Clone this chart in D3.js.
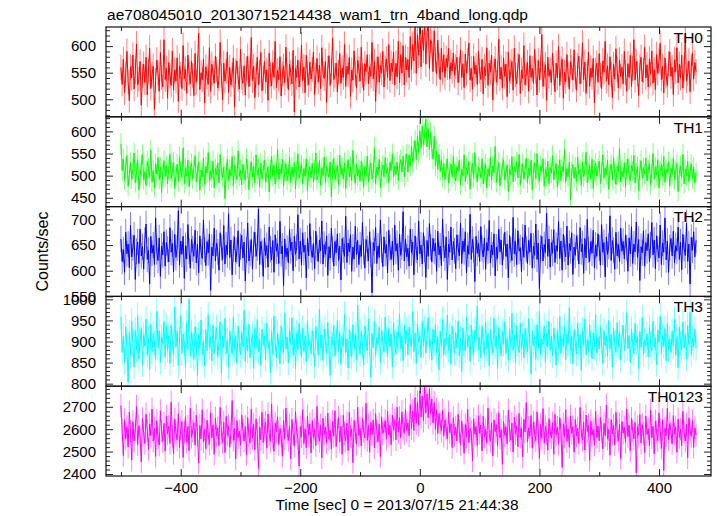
<!DOCTYPE html>
<html><head><meta charset="utf-8">
<script src="https://cdn.jsdelivr.net/npm/d3@7"></script>
<style>
body{margin:0;background:#fff}
svg{display:block}
text{font-family:"Liberation Sans",Arial,Helvetica,sans-serif;fill:#000}
</style>
</head><body>
<svg id="c" width="717" height="516"></svg>
<script>
// time bins: start and step (seconds)
const tStart = -500, tStep = 2;

const th0 = [
560,528,575,512,548,590,533,497,561,540,583,519,552,604,527,538,571,489,544,566,
531,579,508,553,596,520,547,562,481,536,574,549,515,588,541,523,612,537,558,502,
569,544,526,591,517,555,534,578,496,563,547,520,601,539,557,511,583,548,529,572,
545,507,586,532,559,624,518,550,537,575,493,561,542,528,597,515,566,549,530,581,
556,521,539,607,545,499,568,534,552,589,513,560,527,546,578,485,553,572,538,519,
594,541,530,563,508,557,581,524,548,616,535,562,503,545,579,527,551,588,516,540,
571,533,555,498,587,546,525,569,541,609,522,554,537,580,506,547,563,531,598,544,
518,566,550,529,592,476,558,541,574,523,547,602,535,561,512,583,549,527,570,538,
556,589,509,545,577,532,564,520,597,548,539,571,494,558,582,526,553,615,537,545,
568,514,551,586,530,559,541,603,524,562,547,579,505,555,536,591,548,521,573,557,
534,598,545,517,567,552,584,529,561,543,607,538,571,496,556,580,532,564,549,590,
523,559,576,541,603,535,568,552,589,527,568,542,609,531,584,549,601,527,579,555,
575,541,618,556,603,572,638,549,621,583,645,561,630,592,648,566,625,641,558,612,
605,552,629,574,548,611,563,537,596,551,584,541,577,560,596,538,569,553,587,545,
562,579,531,556,593,540,567,522,585,549,573,606,536,558,519,581,547,564,528,590,
553,537,575,510,561,544,597,526,568,551,583,499,557,576,532,549,613,538,560,521,
578,543,566,505,589,534,552,571,517,596,546,529,563,584,511,555,539,601,527,548,
569,515,582,541,558,530,594,552,508,573,536,560,622,524,547,565,498,579,543,556,
531,587,549,514,568,540,599,526,557,575,502,551,533,584,546,519,571,560,536,593,
542,517,564,581,529,553,606,537,570,511,548,589,524,559,541,577,493,555,568,532,
586,545,520,572,551,609,534,563,527,580,547,503,566,538,595,556,521,574,543,561,
529,590,550,515,567,541,583,524,558,612,536,571,548,507,562,579,533,554,598,540,
565,523,576,547,591,530,556,518,584,549,571,605,537,562,512,578,545,526,567,589,
543,560,509,574,552,597,531,566,540,583,521,557,619,535,548,572,514,561,587,538,
569,552];

const th1 = [
572,511,538,489,520,545,476,503,529,492,515,551,484,507,536,468,498,524,547,490,
509,478,533,517,496,558,485,512,473,527,503,541,491,519,462,506,534,498,522,481,
514,549,493,508,530,471,501,526,487,543,510,496,563,482,517,499,535,475,509,528,
492,518,545,486,504,531,467,513,497,539,480,521,506,552,488,511,494,533,472,516,
502,529,483,548,510,495,520,448,507,537,489,514,500,543,477,523,505,491,556,498,
512,479,526,503,490,538,515,468,509,532,496,521,484,547,501,517,474,528,493,511,
535,487,506,520,463,513,544,498,524,481,508,560,492,515,503,537,476,510,527,489,
504,541,485,519,497,530,470,512,549,494,507,525,482,516,499,538,466,509,521,495,
528,486,513,551,490,505,534,478,518,500,542,484,522,507,496,531,452,514,539,491,
508,523,480,546,502,517,493,529,471,511,536,497,520,488,557,505,483,526,499,514,
487,532,509,475,521,498,544,485,513,528,492,506,563,482,519,501,537,473,510,524,
496,541,505,518,484,530,512,549,498,522,502,531,489,524,536,508,544,497,528,549,
508,547,521,566,530,558,579,536,590,552,601,563,612,570,594,628,565,606,559,597,
561,537,589,522,556,514,548,509,536,497,527,491,515,538,483,509,526,497,543,504,
488,521,510,536,479,514,499,547,486,518,503,532,469,511,528,494,552,505,487,520,
513,495,538,481,507,526,472,516,499,541,489,522,506,566,484,512,530,477,503,519,
536,490,508,524,464,515,501,543,486,520,509,531,495,548,479,506,527,492,514,539,
483,517,500,535,468,511,529,493,550,504,487,522,510,538,476,515,497,533,482,518,
506,545,491,513,527,474,502,536,489,521,508,559,485,516,498,531,445,510,525,494,
519,487,542,503,514,478,530,497,511,553,484,507,523,492,537,471,512,528,499,516,
533,482,509,547,494,518,502,535,469,513,526,490,541,505,480,521,508,562,486,511,
497,529,473,515,538,501,489,524,510,546,483,507,520,466,512,534,495,518,504,540,
488,513,527,479,506,550,492,519,501,536,472,510,525,498,543,485,514,507,531,476,
517,503,539,490,511,528,464,505,522,496,548,481,515,500,533,487,509,526,493,519,
484,507];

const th2 = [
662,618,641,597,675,633,652,606,688,627,645,669,583,638,656,614,681,629,647,603,
659,691,622,640,574,667,634,650,612,703,637,620,664,589,648,631,676,609,655,642,
617,684,636,653,598,671,626,644,717,611,658,632,667,585,649,623,690,638,605,661,
643,628,679,615,652,596,668,637,624,699,641,610,657,635,672,562,646,629,683,619,
654,637,601,674,645,622,688,613,650,631,711,626,660,592,643,666,617,639,678,608,
647,669,625,656,580,640,693,619,634,661,603,651,675,628,645,720,612,657,636,589,
664,630,649,607,685,642,621,659,597,670,638,653,614,696,633,648,571,662,627,644,
615,681,639,656,600,667,632,645,709,623,658,611,674,636,650,586,663,629,692,641,
626,653,604,677,644,618,660,639,697,613,651,632,668,591,647,625,683,642,609,657,
635,672,620,648,582,663,641,628,706,616,654,637,670,599,646,623,687,631,659,612,
650,628,694,637,605,661,643,619,676,632,557,655,639,684,614,648,626,699,640,608,
666,634,651,596,679,645,622,658,611,689,638,653,601,671,630,646,715,619,662,627,
644,609,681,635,656,592,668,640,621,697,633,650,613,674,642,587,659,628,692,646,
617,663,638,654,599,677,631,648,610,701,643,625,666,583,652,636,685,621,657,639,
604,670,645,629,693,614,658,637,676,596,649,632,710,622,661,641,579,667,634,653,
618,686,643,627,664,603,655,639,698,615,650,631,672,590,646,624,681,637,660,611,
647,675,628,652,586,669,641,620,704,633,657,612,678,638,645,598,665,626,689,642,
614,659,636,673,605,648,630,691,622,654,565,644,667,619,651,635,712,628,662,607,
655,634,680,616,649,638,696,624,658,601,671,643,627,687,611,653,639,674,593,646,
630,668,645,613,684,637,652,595,663,625,700,641,618,657,634,679,606,650,628,672,
644,611,690,636,655,588,666,632,648,707,620,659,640,603,675,629,651,617,683,638,
657,623,670,645,599,664,633,686,614,652,637,695,626,661,581,647,635,678,609,655,
639,672,618,650,694,631,660,604,668,642,625,689,612,654,636,703,621,658,597,645,
663,629,677,615,649,638,685,622,656,602,671,644,630,693,618,652,574,665,640,676,
627,659];

const th3 = [
958,874,912,851,935,887,803,921,866,948,895,839,927,880,962,858,903,931,845,916,
889,953,868,907,834,941,876,919,897,858,972,884,926,851,910,893,947,862,935,879,
914,848,938,901,869,982,887,925,843,906,961,872,918,895,838,944,881,1000,866,923,
892,857,935,904,819,917,883,951,869,899,842,928,878,963,887,911,854,939,872,906,
933,864,897,946,825,913,886,955,871,904,839,926,893,870,958,881,915,848,937,896,
868,922,887,974,853,909,878,941,862,898,917,836,931,884,952,875,906,843,929,891,
913,857,944,883,901,826,925,870,960,894,861,919,888,847,937,902,875,968,882,910,
849,927,893,956,867,905,835,921,880,943,898,862,932,876,914,852,949,889,903,871,
926,894,841,935,908,868,977,885,916,855,930,899,872,945,883,820,911,892,938,866,
903,950,877,921,846,912,889,964,873,906,837,928,895,863,940,881,917,856,986,898,
870,924,888,845,937,904,878,953,891,815,919,885,947,867,909,893,934,851,926,899,
875,958,902,864,931,887,918,840,945,896,871,923,906,966,882,913,854,939,894,927,
868,934,905,887,971,876,920,848,942,899,913,862,948,890,931,873,915,957,884,903,
856,929,896,940,874,911,833,925,889,952,867,908,893,963,879,917,846,936,901,872,
921,885,949,866,907,829,932,894,878,958,888,914,853,939,898,872,927,905,984,881,
910,862,937,892,869,946,883,919,842,928,897,873,955,887,912,836,933,902,866,924,
893,947,871,908,855,930,886,967,879,916,849,938,895,874,943,882,918,861,931,900,
876,954,897,823,925,889,911,858,940,884,972,869,906,893,937,851,920,887,948,879,
913,866,932,899,844,926,883,959,872,907,890,936,857,919,895,980,878,912,847,929,
898,871,944,885,916,832,927,891,953,868,905,877,939,894,859,921,887,964,873,910,
882,935,901,848,926,890,912,865,950,883,917,839,931,896,874,945,888,921,856,907,
939,879,906,968,884,914,850,929,892,871,943,897,911,835,924,886,957,869,903,890,
918,863,933,894,877,948,886,909,845,927,898,960,872,915,889,931,854,942,881,906,
874,925,891,953,867,912,838,934,896,880,946,885,918,859,938,893,970,871,908,887,
929,884];

const th0123 = [
2705,2598,2483,2641,2557,2612,2520,2676,2589,2462,2633,2548,2597,2701,2531,2615,2569,2453,2648,2582,
2536,2667,2594,2510,2623,2571,2690,2547,2604,2478,2638,2563,2529,2682,2591,2545,2626,2502,2657,2579,
2612,2537,2720,2568,2491,2645,2583,2552,2669,2519,2601,2634,2474,2587,2656,2541,2613,2505,2693,2564,
2593,2629,2528,2662,2575,2449,2617,2556,2686,2543,2600,2512,2640,2578,2533,2673,2561,2620,2488,2650,
2569,2606,2527,2697,2584,2541,2631,2496,2657,2573,2615,2520,2584,2728,2550,2603,2467,2638,2562,2592,
2529,2664,2596,2547,2613,2486,2652,2571,2538,2689,2560,2621,2508,2646,2582,2425,2609,2553,2675,2540,
2598,2630,2515,2668,2576,2545,2712,2563,2501,2627,2588,2655,2532,2604,2570,2479,2639,2557,2694,2585,
2549,2616,2468,2643,2579,2524,2678,2591,2556,2435,2611,2566,2687,2535,2602,2517,2659,2572,2624,2494,
2638,2561,2600,2527,2701,2583,2546,2619,2472,2649,2577,2608,2539,2672,2554,2595,2511,2635,2568,2683,
2522,2596,2653,2542,2614,2488,2662,2580,2548,2627,2505,2676,2567,2601,2450,2639,2586,2533,2698,2571,
2604,2525,2648,2592,2561,2716,2550,2618,2497,2631,2576,2640,2516,2669,2589,2543,2623,2478,2655,2581,
2599,2638,2555,2680,2574,2617,2531,2663,2598,2642,2553,2698,2586,2651,2562,2677,2604,2581,2688,2595,
2628,2571,2709,2603,2682,2594,2741,2626,2722,2618,2770,2654,2748,2637,2795,2672,2758,2651,2781,2669,
2735,2628,2719,2598,2688,2581,2670,2628,2593,2685,2569,2642,2601,2557,2676,2584,2625,2518,2651,2573,
2609,2548,2667,2590,2531,2636,2574,2492,2621,2565,2689,2540,2603,2587,2459,2646,2578,2613,2527,2660,
2582,2619,2503,2657,2566,2600,2539,2694,2577,2546,2628,2481,2641,2589,2620,2524,2673,2561,2598,2443,
2635,2572,2611,2534,2686,2593,2551,2627,2498,2653,2580,2615,2522,2670,2564,2604,2476,2644,2587,2719,
2543,2607,2568,2661,2515,2632,2583,2549,2678,2594,2470,2621,2559,2692,2537,2613,2580,2506,2647,2591,
2561,2629,2488,2666,2575,2608,2533,2652,2596,2429,2624,2566,2687,2545,2603,2519,2658,2581,2612,2497,
2644,2570,2605,2536,2697,2584,2551,2631,2507,2663,2590,2618,2461,2637,2574,2600,2529,2681,2563,2615,
2548,2652,2587,2512,2626,2571,2708,2556,2599,2484,2642,2579,2617,2530,2675,2592,2546,2622,2469,2634,
2582,2609,2541,2690,2567,2618,2503,2648,2593,2557,2630,2405,2611,2573,2665,2538,2620,2584,2496,2659,
2576,2602,2525,2684,2562,2613,2490,2637,2588,2549,2672,2597,2514,2641,2416,2605,2570,2693,2553,2626,
2589,2535,2661,2578,2610,2498,2645,2563,2601,2527,2679,2586,2547,2623,2472,2651,2594,2569,2638,2519,
2606,2574];

const panelNames = ["TH0", "TH1", "TH2", "TH3", "TH0123"];
const panelColors = ["#ff0000", "#00ff00", "#0000ff", "#00ffff", "#ff00ff"];
const yDomains = [[467, 636], [430, 633], [550, 725], [794, 1007], [2391, 2792]];
const yMajorTicks = [[500, 550, 600], [450, 500, 550, 600], [550, 600, 650, 700], [800, 850, 900, 950, 1000], [2400, 2500, 2600, 2700]];
const yMinorStep = [10, 10, 10, 10, 20];
const xDomain = [-525, 487];
const xMajorTicks = [-400, -200, 0, 200, 400];
const xMinorTicks = [-500, -300, -100, 100, 300];
const titleText = "ae708045010_20130715214438_wam1_trn_4band_long.qdp";
const xLabelText = "Time [sec] 0 = 2013/07/15 21:44:38";
const yLabelText = "Counts/sec";

const series = [th0, th1, th2, th3, th0123];

const svg = d3.select("#c");
const L = 106, R = 711, T = 27, B = 476;
const ph = (B - T) / series.length;
const x = d3.scaleLinear().domain(xDomain).range([L, R]);
const defs = svg.append("defs");
const fmtInt = d3.format("d");

series.forEach((vals, k) => {
  const top = T + k * ph, bot = top + ph;
  const y = d3.scaleLinear().domain(yDomains[k]).range([bot, top]);
  const col = panelColors[k];
  defs.append("clipPath").attr("id", "clip" + k)
    .append("rect").attr("x", L).attr("y", top).attr("width", R - L).attr("height", ph);
  const g = svg.append("g").attr("clip-path", `url(#clip${k})`);
  const pts = vals.map((v, i) => ({ t: tStart + i * tStep, v: v, e: Math.sqrt(v) }));
  // error bars
  let d = "";
  pts.forEach(p => { d += `M${x(p.t).toFixed(2)},${y(p.v - p.e).toFixed(2)}V${y(p.v + p.e).toFixed(2)}`; });
  g.append("path").attr("d", d).attr("fill", "none").attr("stroke", col)
    .attr("stroke-opacity", 0.5).attr("stroke-width", 1);
  // line
  g.append("path").datum(pts)
    .attr("d", d3.line().x(p => x(p.t)).y(p => y(p.v)))
    .attr("fill", "none").attr("stroke", col).attr("stroke-width", 1);

  // minor y ticks
  const [y0, y1] = yDomains[k];
  const minor = d3.range(Math.ceil(y0 / yMinorStep[k]) * yMinorStep[k], y1 + 0.001, yMinorStep[k])
    .filter(v => !yMajorTicks[k].includes(v));
  const axG = svg.append("g");
  axG.append("g").attr("transform", `translate(${L},0)`)
    .call(d3.axisLeft(y).tickValues(yMajorTicks[k]).tickSize(-7).tickPadding(10).tickFormat(fmtInt))
    .call(a => a.select(".domain").remove());
  axG.append("g").attr("transform", `translate(${L},0)`)
    .call(d3.axisLeft(y).tickValues(minor).tickSize(-4).tickFormat(""))
    .call(a => a.select(".domain").remove());
  axG.append("g").attr("transform", `translate(${R},0)`)
    .call(d3.axisRight(y).tickValues(yMajorTicks[k]).tickSize(-7).tickFormat(""))
    .call(a => a.select(".domain").remove());
  axG.append("g").attr("transform", `translate(${R},0)`)
    .call(d3.axisRight(y).tickValues(minor).tickSize(-4).tickFormat(""))
    .call(a => a.select(".domain").remove());
  // x ticks top & bottom
  const isLast = k === series.length - 1;
  axG.append("g").attr("transform", `translate(0,${bot})`)
    .call(d3.axisBottom(x).tickValues(xMajorTicks).tickSize(-7).tickPadding(6)
      .tickFormat(isLast ? (v => v < 0 ? "\u2212" + Math.abs(v) : String(v)) : ""))
    .call(a => a.select(".domain").remove());
  axG.append("g").attr("transform", `translate(0,${bot})`)
    .call(d3.axisBottom(x).tickValues(xMinorTicks).tickSize(-4).tickFormat(""))
    .call(a => a.select(".domain").remove());
  axG.append("g").attr("transform", `translate(0,${top})`)
    .call(d3.axisTop(x).tickValues(xMajorTicks).tickSize(-7).tickFormat(""))
    .call(a => a.select(".domain").remove());
  axG.append("g").attr("transform", `translate(0,${top})`)
    .call(d3.axisTop(x).tickValues(xMinorTicks).tickSize(-4).tickFormat(""))
    .call(a => a.select(".domain").remove());
  axG.selectAll("text").attr("font-size", 15).attr("font-family", '"Liberation Sans", Arial, sans-serif');
  axG.selectAll(".tick line").attr("stroke", "#222");

  // frame
  svg.append("rect").attr("x", L).attr("y", top).attr("width", R - L).attr("height", ph)
    .attr("fill", "none").attr("stroke", "#111").attr("stroke-width", 1.2);
  // panel label
  svg.append("text").attr("x", 703).attr("y", top + 15.7).attr("text-anchor", "end")
    .attr("font-size", 15.5).text(panelNames[k]);
});

svg.append("text").attr("x", 107).attr("y", 20).attr("font-size", 15.5)
  .attr("textLength", 421).attr("lengthAdjust", "spacingAndGlyphs").text(titleText);
svg.append("text").attr("x", 397).attr("y", 510).attr("text-anchor", "middle").attr("font-size", 15)
  .attr("textLength", 243).attr("lengthAdjust", "spacingAndGlyphs").text(xLabelText);
svg.append("text").attr("transform", "translate(48,251.5) rotate(-90)").attr("text-anchor", "middle")
  .attr("font-size", 16).text(yLabelText);
</script>
</body></html>
